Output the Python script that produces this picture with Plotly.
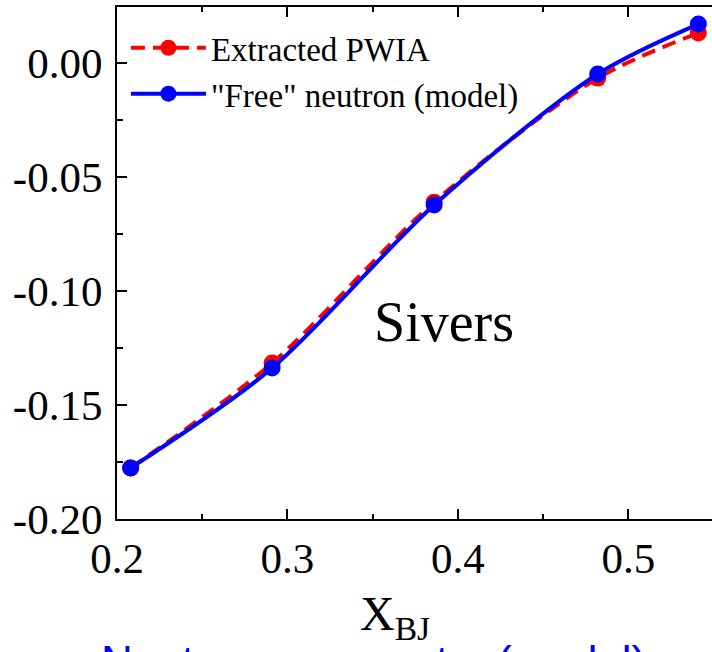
import plotly.graph_objects as go

# Sivers asymmetry vs x_BJ
x_bj = [0.208, 0.291, 0.386, 0.482, 0.541]
pwia = [-0.1776, -0.1316, -0.0610, -0.0066, 0.0132]
free_neutron = [-0.1776, -0.1338, -0.0623, -0.0048, 0.0171]

serif = "Liberation Serif"

fig = go.Figure()
fig.add_trace(go.Scatter(
    x=x_bj, y=pwia, mode="lines+markers", name="Extracted PWIA",
    line=dict(color="#ff0000", width=4, dash="14px,8px", shape="spline", smoothing=0.85),
    marker=dict(color="#ff0000", size=17),
))
fig.add_trace(go.Scatter(
    x=x_bj, y=free_neutron, mode="lines+markers", name='"Free" neutron (model)',
    line=dict(color="#0000ff", width=4, shape="spline", smoothing=0.85),
    marker=dict(color="#0000ff", size=17),
))

# panel label
fig.add_annotation(
    x=0.392, y=-0.1135, xref="x", yref="y", text="Sivers", showarrow=False,
    font=dict(family=serif, size=56, color="black"),
)
# x-axis title
fig.add_annotation(
    x=0.467, y=-0.128, xref="paper", yref="paper", xanchor="center", yanchor="top",
    text="X<sub>BJ</sub>", showarrow=False,
    font=dict(family=serif, size=48, color="black"),
)
# caption of the panel below
fig.add_annotation(
    x=-0.03, y=-0.2265, xref="paper", yref="paper", xanchor="left", yanchor="top",
    text="Neutron asymmetry (model)", showarrow=False,
    font=dict(family="Liberation Sans", size=44, color="#0000ff"),
)

fig.update_layout(
    width=712, height=652,
    margin=dict(l=117, r=0, t=7, b=133),
    paper_bgcolor="white", plot_bgcolor="white",
    showlegend=True,
    legend=dict(
        x=0.015, y=0.975, xanchor="left", yanchor="top",
        font=dict(family=serif, size=33, color="black"),
        bgcolor="rgba(0,0,0,0)", itemwidth=75, tracegroupgap=0,
    ),
    xaxis=dict(
        range=[0.2, 0.549], tickvals=[0.2, 0.3, 0.4, 0.5],
        ticktext=["0.2", "0.3", "0.4", "0.5"],
        ticks="inside", ticklen=10, tickwidth=2, tickcolor="black",
        minor=dict(dtick=0.05, tick0=0.2, ticks="inside", ticklen=5, tickwidth=2, tickcolor="black"),
        showline=True, linewidth=2, linecolor="black", mirror="allticks",
        showgrid=False, zeroline=False,
        tickfont=dict(family=serif, size=43, color="black"),
    ),
    yaxis=dict(
        range=[-0.20, 0.0246], tickvals=[-0.20, -0.15, -0.10, -0.05, 0.00],
        ticktext=["-0.20", "-0.15", "-0.10", "-0.05", "0.00"],
        ticks="inside", ticklen=10, tickwidth=2, tickcolor="black",
        minor=dict(dtick=0.025, tick0=0, ticks="inside", ticklen=6, tickwidth=2, tickcolor="black"),
        showline=True, linewidth=2, linecolor="black",
        showgrid=False, zeroline=False,
        tickfont=dict(family=serif, size=43, color="black"),
        ticklabelstandoff=4,
    ),
)

fig.write_html("out.html")
